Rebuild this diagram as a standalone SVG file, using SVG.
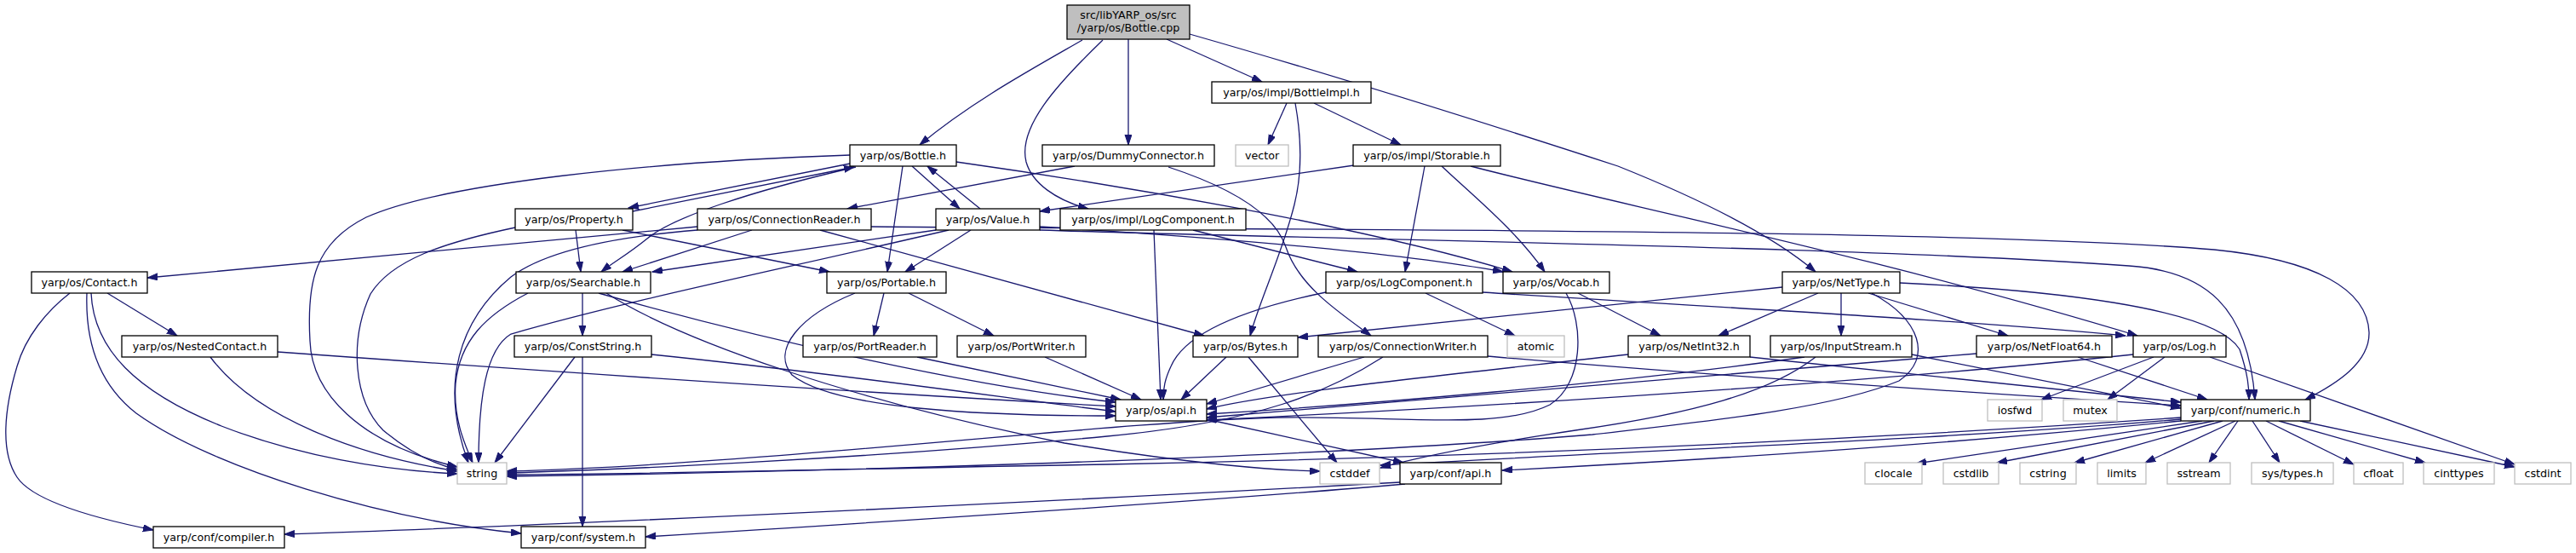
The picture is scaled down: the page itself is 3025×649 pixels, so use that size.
<svg xmlns="http://www.w3.org/2000/svg" width="3025" height="649" viewBox="0 0 3025 649">
<style>
.n rect{fill:#fff;stroke:#000;stroke-width:1.3}
.g rect{fill:#fff;stroke:#bfbfbf;stroke-width:1.3}
.r rect{fill:#bfbfbf;stroke:#000;stroke-width:1.3}
text{font-family:"DejaVu Sans","Liberation Sans",sans-serif;font-size:12.7px;fill:#000;text-anchor:middle}
#edges path{fill:none;stroke:#191970;stroke-width:1.3;marker-end:url(#a)}
</style>
<defs>
<marker id="a" markerWidth="13" markerHeight="9" refX="12" refY="4" orient="auto" markerUnits="userSpaceOnUse"><path d="M0,0L12,4L0,8z" fill="#191970" stroke="#191970" stroke-width="1"/></marker>
</defs>
<rect width="3025" height="649" fill="#fff"/>
<g id="edges">
<path d="M1271,47 C1210,82 1140,120 1080,170"/>
<path d="M1295,47 C1240,100 1195,150 1205,190 C1212,215 1240,235 1278,245"/>
<path d="M1325,46 L1325,170"/>
<path d="M1370,46 L1482,96"/>
<path d="M1397,40 C1530,78 1700,130 1900,195 C2000,235 2080,275 2132,319"/>
<path d="M1511,121 L1489,170"/>
<path d="M1521,121 C1528,160 1530,200 1520,240 C1505,300 1480,350 1468,394"/>
<path d="M1543,121 L1645,170"/>
<path d="M1590,194 L1221,248"/>
<path d="M1673,195 L1650,319"/>
<path d="M1693,195 C1730,230 1780,270 1814,319"/>
<path d="M1727,195 C1900,240 2200,300 2510,394"/>
<path d="M1262,195 L995,245"/>
<path d="M1372,196 C1430,215 1495,245 1510,290 C1525,335 1570,365 1610,394"/>
<path d="M998,182 C760,190 520,215 430,255 C370,285 360,330 364,400 C366,460 420,520 537,548"/>
<path d="M998,192 L738,244"/>
<path d="M743,248 L1003,196"/>
<path d="M1005,196 C880,225 790,255 760,280 C738,298 720,308 706,319"/>
<path d="M1060,195 L1042,319"/>
<path d="M1071,195 L1127,245"/>
<path d="M1151,245 L1089,195"/>
<path d="M1123,190 C1300,215 1600,265 1776,319"/>
<path d="M605,267 C520,285 460,305 435,345 C410,400 415,470 450,505 C480,530 510,545 537,551"/>
<path d="M676,270 L682,319"/>
<path d="M731,270 L974,319"/>
<path d="M819,266 L173,326"/>
<path d="M819,270 C720,278 640,295 600,325 C540,375 515,450 550,543"/>
<path d="M883,270 L731,319"/>
<path d="M963,270 L1414,394"/>
<path d="M1023,266 C1500,270 2300,268 2600,293 C2720,305 2780,340 2782,390 C2783,425 2745,450 2707,469"/>
<path d="M1099,270 L766,319"/>
<path d="M1114,270 C900,320 740,352 600,392 C570,410 562,470 562,543"/>
<path d="M1140,270 L1063,319"/>
<path d="M1221,266 C1450,280 1650,298 1765,319"/>
<path d="M1221,270 C1600,282 2200,290 2500,312 C2590,318 2640,360 2648,469"/>
<path d="M1355,270 L1363,469"/>
<path d="M1401,270 L1594,319"/>
<path d="M126,344 L208,394"/>
<path d="M82,344 C55,365 30,395 20,430 C5,480 0,530 20,560 C40,590 120,610 180,622"/>
<path d="M102,344 C100,400 115,450 160,485 C250,550 450,610 612,626"/>
<path d="M107,344 C110,410 160,460 260,500 C350,535 450,552 537,556"/>
<path d="M247,419 C300,490 420,535 537,553"/>
<path d="M326,413 C700,440 1000,460 1310,477"/>
<path d="M620,344 C570,370 540,400 535,450 C532,490 545,520 555,543"/>
<path d="M684,344 L684,394"/>
<path d="M703,344 C900,400 1150,455 1310,472"/>
<path d="M712,344 C800,400 1000,470 1250,520 C1400,545 1500,552 1550,553"/>
<path d="M675,419 L581,543"/>
<path d="M684,419 L684,618"/>
<path d="M765,416 C1000,440 1200,470 1310,483"/>
<path d="M1004,344 C940,370 905,410 930,440 C980,480 1150,488 1310,488"/>
<path d="M1038,344 L1026,394"/>
<path d="M1067,344 L1167,394"/>
<path d="M1077,419 L1316,469"/>
<path d="M1227,419 L1340,469"/>
<path d="M1440,419 L1387,469"/>
<path d="M1466,419 L1570,543"/>
<path d="M1602,419 L1417,474"/>
<path d="M1624,419 C1560,460 1480,495 1300,512 C1000,540 700,552 595,555"/>
<path d="M1747,418 C2000,440 2300,460 2561,476"/>
<path d="M1557,343 C1450,365 1390,395 1375,430 C1368,445 1366,455 1366,469"/>
<path d="M1674,344 L1779,394"/>
<path d="M1741,343 C2000,360 2300,375 2496,394"/>
<path d="M1853,344 L1950,394"/>
<path d="M1839,344 C1860,380 1860,450 1820,475 C1760,505 1650,488 1500,490 C1300,495 900,545 595,553"/>
<path d="M2093,337 L1524,396"/>
<path d="M2135,344 L2018,394"/>
<path d="M2162,344 L2162,394"/>
<path d="M2194,344 L2358,394"/>
<path d="M2231,332 C2400,340 2600,360 2630,410 C2640,440 2641,455 2641,469"/>
<path d="M2198,344 C2255,375 2270,420 2230,447 C2150,480 2000,495 1870,510 C1500,540 900,555 595,559"/>
<path d="M1912,416 C1700,440 1500,460 1417,480"/>
<path d="M2055,419 C2250,440 2450,460 2561,472"/>
<path d="M2119,419 C1900,450 1600,475 1417,486"/>
<path d="M2132,419 C2080,460 1990,485 1850,505 C1750,520 1670,535 1621,549"/>
<path d="M2245,416 L2561,479"/>
<path d="M2321,415 C2000,440 1700,465 1417,490"/>
<path d="M2440,419 L2592,469"/>
<path d="M2505,416 C2280,440 1900,470 1417,493"/>
<path d="M2529,419 L2397,469"/>
<path d="M2542,419 L2475,469"/>
<path d="M2595,419 L2953,545"/>
<path d="M2561,490 C2200,515 1800,535 1300,545 C1000,550 800,556 595,557"/>
<path d="M2561,492 C2300,515 1900,530 1621,546"/>
<path d="M2561,494 C2300,520 2000,540 1764,552"/>
<path d="M2586,494 L2250,544"/>
<path d="M2600,494 L2345,543"/>
<path d="M2610,494 L2436,543"/>
<path d="M2625,494 L2519,543"/>
<path d="M2628,494 L2594,543"/>
<path d="M2645,494 L2677,543"/>
<path d="M2661,494 L2764,545"/>
<path d="M2676,494 L2848,543"/>
<path d="M2701,494 L2953,548"/>
<path d="M1417,492 L1648,543"/>
<path d="M1644,566 C1300,585 700,615 334,627"/>
<path d="M1650,568 C1400,590 1000,615 758,630"/>
</g>
<g id="n0" class="r"><rect x="1253" y="6" width="144" height="40"/><text x="1325" y="21.5">src/libYARP_os/src</text><text x="1325" y="37">/yarp/os/Bottle.cpp</text></g>
<g id="n1" class="n"><rect x="1423" y="96" width="187" height="25"/><text x="1516.5" y="112.5">yarp/os/impl/BottleImpl.h</text></g>
<g id="n2" class="n"><rect x="998" y="170" width="125" height="25"/><text x="1060.5" y="186.5">yarp/os/Bottle.h</text></g>
<g id="n3" class="n"><rect x="1224" y="170" width="202" height="25"/><text x="1325" y="186.5">yarp/os/DummyConnector.h</text></g>
<g id="n4" class="g"><rect x="1451" y="170" width="62" height="25"/><text x="1482" y="186.5">vector</text></g>
<g id="n5" class="n"><rect x="1589" y="170" width="173" height="25"/><text x="1675.5" y="186.5">yarp/os/impl/Storable.h</text></g>
<g id="n6" class="n"><rect x="605" y="245" width="138" height="25"/><text x="674" y="261.5">yarp/os/Property.h</text></g>
<g id="n7" class="n"><rect x="819" y="245" width="204" height="25"/><text x="921" y="261.5">yarp/os/ConnectionReader.h</text></g>
<g id="n8" class="n"><rect x="1099" y="245" width="122" height="25"/><text x="1160" y="261.5">yarp/os/Value.h</text></g>
<g id="n9" class="n"><rect x="1245" y="245" width="218" height="25"/><text x="1354" y="261.5">yarp/os/impl/LogComponent.h</text></g>
<g id="n10" class="n"><rect x="37" y="319" width="136" height="25"/><text x="105" y="335.5">yarp/os/Contact.h</text></g>
<g id="n11" class="n"><rect x="606" y="319" width="158" height="25"/><text x="685" y="335.5">yarp/os/Searchable.h</text></g>
<g id="n12" class="n"><rect x="971" y="319" width="140" height="25"/><text x="1041" y="335.5">yarp/os/Portable.h</text></g>
<g id="n13" class="n"><rect x="1557" y="319" width="184" height="25"/><text x="1649" y="335.5">yarp/os/LogComponent.h</text></g>
<g id="n14" class="n"><rect x="1765" y="319" width="125" height="25"/><text x="1827.5" y="335.5">yarp/os/Vocab.h</text></g>
<g id="n15" class="n"><rect x="2093" y="319" width="138" height="25"/><text x="2162" y="335.5">yarp/os/NetType.h</text></g>
<g id="n16" class="n"><rect x="143" y="394" width="183" height="25"/><text x="234.5" y="410.5">yarp/os/NestedContact.h</text></g>
<g id="n17" class="n"><rect x="604" y="394" width="161" height="25"/><text x="684.5" y="410.5">yarp/os/ConstString.h</text></g>
<g id="n18" class="n"><rect x="943" y="394" width="157" height="25"/><text x="1021.5" y="410.5">yarp/os/PortReader.h</text></g>
<g id="n19" class="n"><rect x="1124" y="394" width="151" height="25"/><text x="1199.5" y="410.5">yarp/os/PortWriter.h</text></g>
<g id="n20" class="n"><rect x="1401" y="394" width="123" height="25"/><text x="1462.5" y="410.5">yarp/os/Bytes.h</text></g>
<g id="n21" class="n"><rect x="1548" y="394" width="199" height="25"/><text x="1647.5" y="410.5">yarp/os/ConnectionWriter.h</text></g>
<g id="n22" class="g"><rect x="1770" y="394" width="67" height="25"/><text x="1803.5" y="410.5">atomic</text></g>
<g id="n23" class="n"><rect x="1912" y="394" width="143" height="25"/><text x="1983.5" y="410.5">yarp/os/NetInt32.h</text></g>
<g id="n24" class="n"><rect x="2079" y="394" width="166" height="25"/><text x="2162" y="410.5">yarp/os/InputStream.h</text></g>
<g id="n25" class="n"><rect x="2321" y="394" width="159" height="25"/><text x="2400.5" y="410.5">yarp/os/NetFloat64.h</text></g>
<g id="n26" class="n"><rect x="2505" y="394" width="109" height="25"/><text x="2559.5" y="410.5">yarp/os/Log.h</text></g>
<g id="n27" class="n"><rect x="1310" y="469" width="107" height="25"/><text x="1363.5" y="485.5">yarp/os/api.h</text></g>
<g id="n28" class="g"><rect x="2334" y="469" width="64" height="25"/><text x="2366" y="485.5">iosfwd</text></g>
<g id="n29" class="g"><rect x="2423" y="469" width="63" height="25"/><text x="2454.5" y="485.5">mutex</text></g>
<g id="n30" class="n"><rect x="2561" y="469" width="152" height="25"/><text x="2637" y="485.5">yarp/conf/numeric.h</text></g>
<g id="n31" class="g"><rect x="537" y="543" width="58" height="25"/><text x="566" y="559.5">string</text></g>
<g id="n32" class="g"><rect x="1550" y="543" width="70" height="25"/><text x="1585" y="559.5">cstddef</text></g>
<g id="n33" class="n"><rect x="1644" y="543" width="119" height="25"/><text x="1703.5" y="559.5">yarp/conf/api.h</text></g>
<g id="n34" class="g"><rect x="2190" y="543" width="67" height="25"/><text x="2223.5" y="559.5">clocale</text></g>
<g id="n35" class="g"><rect x="2282" y="543" width="65" height="25"/><text x="2314.5" y="559.5">cstdlib</text></g>
<g id="n36" class="g"><rect x="2372" y="543" width="66" height="25"/><text x="2405" y="559.5">cstring</text></g>
<g id="n37" class="g"><rect x="2463" y="543" width="57" height="25"/><text x="2491.5" y="559.5">limits</text></g>
<g id="n38" class="g"><rect x="2545" y="543" width="74" height="25"/><text x="2582" y="559.5">sstream</text></g>
<g id="n39" class="g"><rect x="2644" y="543" width="96" height="25"/><text x="2692" y="559.5">sys/types.h</text></g>
<g id="n40" class="g"><rect x="2764" y="543" width="58" height="25"/><text x="2793" y="559.5">cfloat</text></g>
<g id="n41" class="g"><rect x="2846" y="543" width="83" height="25"/><text x="2887.5" y="559.5">cinttypes</text></g>
<g id="n42" class="g"><rect x="2953" y="543" width="66" height="25"/><text x="2986" y="559.5">cstdint</text></g>
<g id="n43" class="n"><rect x="180" y="618" width="154" height="25"/><text x="257" y="634.5">yarp/conf/compiler.h</text></g>
<g id="n44" class="n"><rect x="612" y="618" width="146" height="25"/><text x="685" y="634.5">yarp/conf/system.h</text></g>
</svg>
